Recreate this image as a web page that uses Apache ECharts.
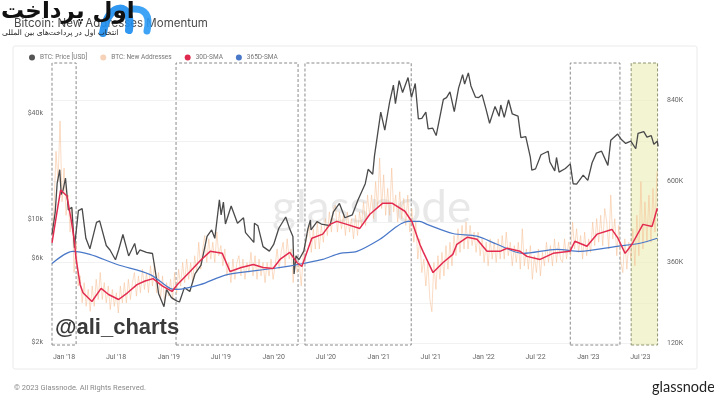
<!DOCTYPE html>
<html><head><meta charset="utf-8">
<script src="https://cdn.jsdelivr.net/npm/echarts@6/dist/echarts.min.js"></script>
<style>html,body{margin:0;padding:0;background:#fff}#c{width:714px;height:407px}</style>
</head><body><div id="c"></div><script>
// ---- data ----
const priceData = [
['2017-11-20',8200],['2017-12-01',10900],['2017-12-08',16000],['2017-12-17',19100],['2017-12-22',13800],['2017-12-28',14500],
['2018-01-06',17100],['2018-01-16',11300],['2018-01-28',11700],['2018-02-06',6900],['2018-02-20',11200],['2018-03-05',11500],
['2018-03-18',7800],['2018-04-01',6800],['2018-04-24',9600],['2018-05-05',9800],['2018-05-28',7100],['2018-06-10',6700],
['2018-06-29',5900],['2018-07-10',6700],['2018-07-25',8200],['2018-08-14',6200],['2018-09-04',7300],['2018-09-12',6300],
['2018-09-22',6700],['2018-10-15',6500],['2018-11-05',6400],['2018-11-20',4500],['2018-11-26',3800],['2018-12-15',3200],
['2018-12-24',4000],['2019-01-10',3600],['2019-01-28',3450],['2019-02-07',3400],['2019-02-24',4100],['2019-03-15',3900],
['2019-04-02',4900],['2019-04-23',5500],['2019-05-14',8000],['2019-05-30',8700],['2019-06-10',7800],['2019-06-26',12900],
['2019-07-02',10600],['2019-07-10',12500],['2019-07-17',9400],['2019-08-06',11900],['2019-08-28',9500],['2019-09-18',10200],
['2019-09-25',8400],['2019-10-24',7400],['2019-10-26',9500],['2019-11-07',9200],['2019-11-25',7000],['2019-12-17',6600],
['2020-01-01',7200],['2020-01-19',8900],['2020-02-12',10300],['2020-02-26',8800],['2020-03-08',8000],['2020-03-12',4900],
['2020-03-19',6200],['2020-03-29',5900],['2020-04-15',6600],['2020-04-29',8800],['2020-05-08',9900],['2020-05-10',8700],
['2020-05-31',9700],['2020-06-15',9400],['2020-07-15',9200],['2020-07-27',11000],['2020-08-17',12300],['2020-09-05',10200],
['2020-10-01',10600],['2020-10-21',12900],['2020-11-15',15900],['2020-11-25',19200],['2020-12-11',18000],['2020-12-17',22800],
['2021-01-08',40500],['2021-01-22',32000],['2021-02-08',46200],['2021-02-21',57500],['2021-02-28',45200],['2021-03-13',61000],
['2021-03-25',52300],['2021-04-13',63500],['2021-04-25',49000],['2021-05-08',58800],['2021-05-19',37000],['2021-05-31',37300],
['2021-06-14',40500],['2021-06-22',32500],['2021-07-08',32800],['2021-07-20',29800],['2021-08-14',47800],['2021-08-25',48900],
['2021-09-06',52700],['2021-09-21',40700],['2021-10-06',55300],['2021-10-20',66000],['2021-10-27',58400],['2021-11-09',67500],
['2021-11-18',56900],['2021-12-04',49200],['2021-12-15',48900],['2021-12-27',50700],['2022-01-10',41800],['2022-01-22',35000],
['2022-02-10',43600],['2022-02-24',38300],['2022-03-02',44400],['2022-03-14',37800],['2022-03-29',47400],['2022-04-11',39500],
['2022-05-01',38400],['2022-05-11',29000],['2022-05-28',29400],['2022-06-13',22400],['2022-06-18',19000],['2022-07-01',19300],
['2022-07-20',23200],['2022-08-14',24300],['2022-08-20',21100],['2022-09-06',18800],['2022-09-12',22400],['2022-09-21',18500],
['2022-10-13',19400],['2022-10-30',20600],['2022-11-09',15900],['2022-11-21',15800],['2022-12-14',17800],['2022-12-30',16600],
['2023-01-14',20900],['2023-01-29',23700],['2023-02-16',24300],['2023-03-10',20200],['2023-03-20',28000],['2023-04-13',30400],
['2023-04-26',28300],['2023-05-11',26900],['2023-05-29',27700],['2023-06-15',25100],['2023-06-23',30700],['2023-07-13',31400],
['2023-07-24',29200],['2023-08-08',29800],['2023-08-17',26600],['2023-08-29',27700],['2023-09-01',25900]
];
// weekly new addresses (thousands), first week starts 2017-11-20
const newAddrStart = '2017-11-20';
const newAddrWeekly = [
440,520,690,600,780,540,640,500,560,450,
520,330,420,290,
320,240,300,230,280,
215,290,230,310,250,
330,250,300,240,
290,220,280,230,
270,210,290,240,300,
240,310,250,300,
330,260,320,270,
340,280,330,270,350,
290,360,270,330,
250,320,240,300,260,
310,250,330,270,
340,290,360,300,
370,310,360,300,
380,330,420,340,400,
440,360,430,370,
420,360,450,380,
410,350,400,320,360,
300,370,310,360,
380,320,370,310,360,
330,390,320,380,
310,370,320,360,
300,360,320,370,310,
350,400,340,390,
420,350,430,370,
400,300,380,330,360,
290,380,410,440,
470,390,460,400,
480,400,470,420,490,
440,510,450,520,
530,450,510,460,500,
440,510,450,490,
430,500,440,510,
470,540,470,560,500,
560,490,600,520,
670,520,620,500,
580,500,640,510,
560,480,570,490,550,
470,560,450,520,
420,480,370,430,330,
370,290,360,250,
214,360,280,380,
310,390,320,410,340,
420,350,440,380,
460,390,470,400,
480,400,470,410,450,
390,450,380,430,
360,420,350,430,370,
420,360,430,370,
440,370,450,380,
420,350,410,360,
420,340,460,350,400,
340,410,310,380,
330,400,320,390,
350,420,360,410,350,
430,360,420,370,
360,430,370,420,380,
480,400,460,390,
440,370,450,380,
430,390,480,410,490,
420,500,410,520,
480,400,560,430,
490,380,470,360,
330,430,340,420,370,
460,350,500,380,
600,400,540,420,560,
420,580,450,630
];
const sma30Data = [
['2017-11-20',418],['2017-12-06',503],['2017-12-20',575],['2018-01-11',557],['2018-01-25',490],['2018-02-05',430],
['2018-02-12',370],['2018-02-26',294],['2018-03-08',270],['2018-04-08',244],['2018-05-10',283],['2018-06-05',265],
['2018-07-10',250],['2018-08-10',270],['2018-09-12',294],['2018-10-10',305],['2018-11-07',312],['2018-12-10',290],
['2019-01-12',274],['2019-01-30',294],['2019-03-16',333],['2019-04-20',365],['2019-05-25',393],['2019-07-06',387],
['2019-08-02',333],['2019-09-10',345],['2019-10-22',354],['2019-11-25',345],['2019-12-30',342],['2020-01-23',369],
['2020-02-26',390],['2020-03-22',360],['2020-04-08',348],['2020-05-13',432],['2020-06-20',444],['2020-07-15',473],
['2020-08-08',482],['2020-09-12',473],['2020-10-27',461],['2020-12-01',503],['2021-01-15',536],['2021-02-16',536],
['2021-04-02',512],['2021-04-27',480],['2021-05-24',414],['2021-06-04',393],['2021-07-09',330],['2021-08-13',360],
['2021-09-16',384],['2021-09-30',414],['2021-11-06',435],['2021-12-09',429],['2022-01-13',393],['2022-02-27',393],
['2022-03-24',402],['2022-05-08',393],['2022-06-01',378],['2022-07-17',369],['2022-08-31',387],['2022-10-29',393],
['2022-11-15',423],['2022-12-27',408],['2023-01-31',444],['2023-03-24',458],['2023-04-14',432],['2023-05-09',387],
['2023-06-02',414],['2023-07-10',473],['2023-08-11',467],['2023-08-29',521]
];
const sma365Data = [
['2017-11-20',357],['2018-02-01',393],['2018-04-01',384],['2018-07-05',354],['2018-10-28',324],['2019-01-05',283],
['2019-01-30',280],['2019-04-20',294],['2019-07-23',324],['2019-12-30',342],['2020-03-01',350],['2020-04-12',357],
['2020-06-20',369],['2020-08-19',387],['2020-10-17',393],['2021-01-05',429],['2021-04-13',482],['2021-05-24',482],
['2021-06-18',473],['2021-09-16',446],['2021-12-09',438],['2022-02-17',414],['2022-05-18',387],['2022-09-14',399],
['2022-12-03',393],['2023-04-11',408],['2023-06-30',417],['2023-08-29',432]
];
const priceTicks = [2000, 6000, 10000, 40000];
const addrTicks = [120, 360, 600, 840];
const addrGrid = [120, 240, 360, 480, 600, 720, 840];
const xTickDates = ['2018-01-01','2018-07-01','2019-01-01','2019-07-01','2020-01-01','2020-07-01',
  '2021-01-01','2021-07-01','2022-01-01','2022-07-01','2023-01-01','2023-07-01'];
const periods = [['2017-11-20','2018-02-12'],['2019-01-26','2020-03-26'],['2020-04-19','2021-04-24'],['2022-10-30','2023-04-21']];
const highlight = ['2023-05-30','2023-08-30'];

// ---- build ----
const ts = s => { const p = s.split('-'); return Date.UTC(+p[0], +p[1]-1, +p[2]); };
const DAY = 86400000;
const toTs = arr => arr.map(d => [ts(d[0]), d[1]]);
const newAddrData = newAddrWeekly.map((v, i) => [ts(newAddrStart) + i * 7 * DAY, v]);
const MON = ['Jan','Feb','Mar','Apr','May','Jun','Jul','Aug','Sep','Oct','Nov','Dec'];

const chart = echarts.init(document.getElementById('c'), null, {renderer: 'canvas'});
const boxStyle = {color: 'rgba(0,0,0,0)', borderColor: '#8a8a8a', borderWidth: 1, borderType: [3, 2]};
const areaData = periods.map(p => [{xAxis: ts(p[0]), itemStyle: boxStyle}, {xAxis: ts(p[1])}]);
areaData.push([{xAxis: ts(highlight[0]), itemStyle: {color: 'rgba(236,238,186,0.65)', borderColor: '#8f9470', borderWidth: 1, borderType: [3, 2]}}, {xAxis: ts(highlight[1])}]);

chart.setOption({
  animation: false,
  backgroundColor: '#ffffff',
  textStyle: {fontFamily: 'Roboto, sans-serif'},
  title: {text: 'Bitcoin: New Addresses Momentum', left: 9, top: 13,
    textStyle: {fontSize: 11.5, fontWeight: 'normal', color: '#4a4a4a', fontFamily: 'Inter, sans-serif'}},
  legend: {left: 29, top: 54, itemGap: 13, itemWidth: 6, itemHeight: 6, icon: 'circle', padding: 0,
    textStyle: {fontSize: 6.5, color: '#777'},
    data: ['BTC: Price [USD]', 'BTC: New Addresses', '30D-SMA', '365D-SMA']},
  grid: {left: 52, right: 55, top: 63, bottom: 62, containLabel: false},
  graphic: [
    {type: 'rect', z: -10, shape: {x: 13, y: 46, width: 684, height: 323, r: 2},
      style: {fill: '#fff', stroke: '#ebebeb', lineWidth: 1}},
    {type: 'text', z: -5, left: 272, top: 185,
      style: {text: 'glassnode', fontSize: 46, fontFamily: 'Lato, sans-serif', fill: 'rgba(0,0,0,0.09)'}},
    {type: 'text', z: 100, left: 55, top: 317,
      style: {text: '@ali_charts', fontSize: 22, fontWeight: 'bold', fontFamily: 'Liberation Sans, Arial, sans-serif', fill: '#3a3a3a'}},
    {type: 'text', left: 14, top: 384,
      style: {text: '\u00a9 2023 Glassnode. All Rights Reserved.', fontSize: 7.5, fill: '#8a8a8a', fontFamily: 'Roboto, sans-serif'}},
    {type: 'text', left: 652, top: 380,
      style: {text: 'glassnode', fontSize: 14.5, fill: '#222', fontFamily: 'Lato, sans-serif'}},
    {type: 'bezierCurve', z: 120, shape: {x1: 103, y1: 33, x2: 129, y2: 30, cpx1: 108, cpy1: 0, cpx2: 134, cpy2: 2},
      style: {stroke: '#1e8ff0', lineWidth: 8, fill: null, lineCap: 'round', opacity: 0.92}},
    {type: 'bezierCurve', z: 120, shape: {x1: 133, y1: 9, x2: 147, y2: 31, cpx1: 152, cpy1: 8},
      style: {stroke: '#2a9af5', lineWidth: 7, fill: null, lineCap: 'round', opacity: 0.9}},
    {type: 'text', z: 121, left: 1, top: 1,
      style: {text: 'اول پرداخت', fontSize: 23, fontWeight: 'bold', fill: '#111', fontFamily: 'DejaVu Sans, sans-serif'}},
    {type: 'text', z: 121, left: 2, top: 29,
      style: {text: 'انتخاب اول در پرداخت‌های بین المللی', fontSize: 7.5, fill: '#222', fontFamily: 'DejaVu Sans, sans-serif'}}
  ],
  xAxis: {type: 'value', min: ts('2017-11-20'), max: ts('2023-09-04'),
    axisLine: {show: false}, axisTick: {show: false}, splitLine: {show: false},
    axisLabel: {customValues: xTickDates.map(ts), fontSize: 7, color: '#666', margin: 9,
      formatter: v => { const d = new Date(v); return MON[d.getUTCMonth()] + " '" + String(d.getUTCFullYear()).slice(2); }}},
  yAxis: [
    {type: 'log', min: 1940, max: 76800, position: 'left',
      axisLine: {show: false}, axisTick: {show: false}, splitLine: {show: false},
      axisLabel: {customValues: priceTicks, fontSize: 7, color: '#666', margin: 9,
        formatter: v => '$' + Math.round(v / 1000) + 'k'}},
    {type: 'value', min: 115, max: 952, position: 'right',
      axisLine: {show: false},
      axisTick: {show: false, customValues: addrGrid},
      splitLine: {show: true, lineStyle: {color: '#f1f1f1', width: 1}},
      axisLabel: {customValues: addrTicks, fontSize: 7, color: '#666', margin: 8,
        formatter: v => v + 'K'}}
  ],
  series: [
    {name: 'BTC: New Addresses', type: 'line', yAxisIndex: 1, data: newAddrData, symbol: 'none', z: 1,
      color: '#f6d3b8', lineStyle: {color: '#f6b98c', width: 1, opacity: 0.5},
      markArea: {silent: true, data: areaData}},
    {name: 'BTC: Price [USD]', type: 'line', yAxisIndex: 0, data: toTs(priceData), symbol: 'none', z: 3,
      color: '#555', lineStyle: {color: '#4a4a4a', width: 1.3}},
    {name: '365D-SMA', type: 'line', yAxisIndex: 1, data: toTs(sma365Data), symbol: 'none', z: 4, smooth: 0.3,
      color: '#4a78c8', lineStyle: {color: '#4a78c8', width: 1.2}},
    {name: '30D-SMA', type: 'line', yAxisIndex: 1, data: toTs(sma30Data), symbol: 'none', z: 5,
      color: '#e0294f', lineStyle: {color: '#e32b50', width: 1.5}}
  ]
});
</script></body></html>
